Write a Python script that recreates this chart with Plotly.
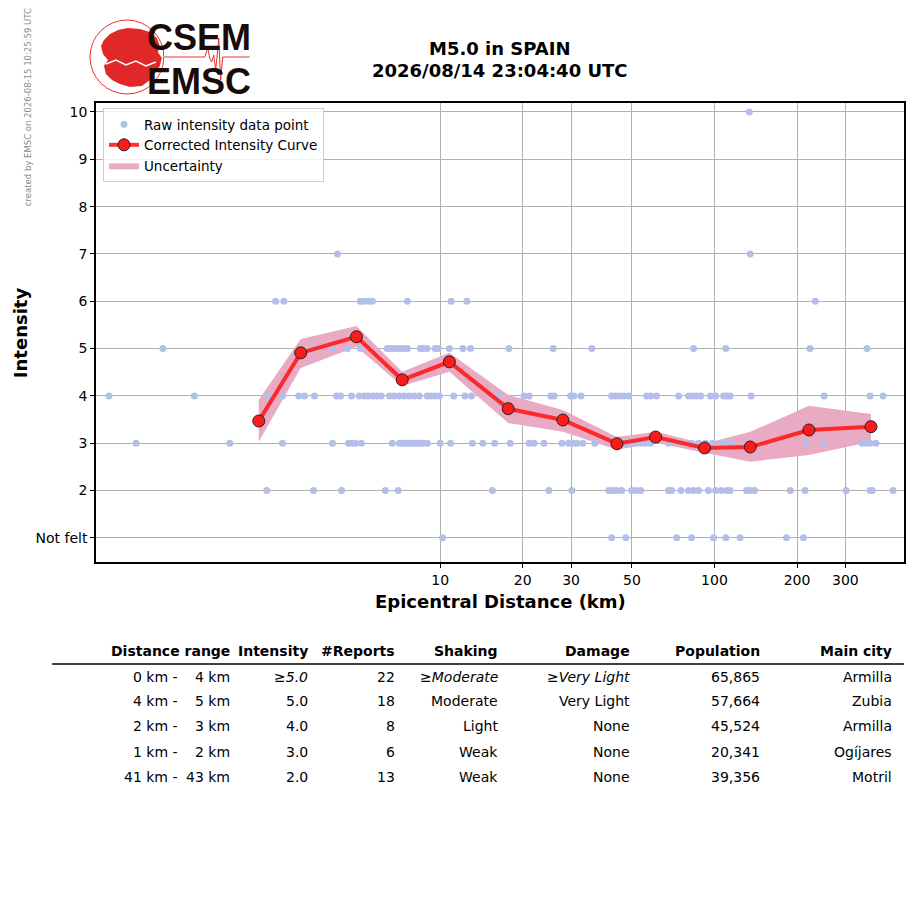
import plotly.graph_objects as go

# ---- data ----
raw_i10 = [134]
raw_i7 = [4.22, 135]
raw_i6 = [2.51, 2.69, 5.12, 5.25, 5.47, 5.66, 7.59, 10.96, 12.5, 233]
raw_i5 = [0.975, 3.48, 4.05, 4.59, 5.12, 6.41, 6.58, 6.75, 6.98, 7.16, 7.33, 7.59,
          8.46, 8.67, 8.97, 9.59, 9.84, 10.8, 12.1, 12.9, 17.8, 25.8, 35.7, 83.9,
          110, 223, 360]
raw_i4 = [0.62, 1.27, 2.35, 2.66, 3.05, 3.2, 3.48, 4.19, 4.33, 4.75, 5.07, 5.29,
          5.47, 5.7, 5.9, 6.1, 6.53, 6.8, 7.1, 7.4, 7.7, 8.04, 8.39, 8.97, 9.27,
          9.59, 9.92, 11.2, 12.3, 13.0, 16.3, 20.2, 21.1, 25.3, 26.0, 29.9, 30.7,
          32.6, 42.2, 43.6, 45.2, 46.7, 48.7, 56.6, 58.5, 61.5, 74.0, 80.4, 83.2,
          86.0, 89.0, 96.7, 101, 108, 111, 114, 136, 251, 369, 412]
raw_i3 = [0.778, 1.71, 2.66, 4.05, 4.63, 4.79, 4.91, 5.16, 6.69, 7.1, 7.28, 7.46,
          7.65, 7.85, 8.04, 8.25, 8.46, 8.67, 8.97, 10.0, 10.9, 13.1, 14.3, 15.8,
          18.0, 21.1, 22.0, 23.9, 27.8, 29.4, 30.7, 31.5, 33.1, 36.6, 44.0, 47.5,
          49.5, 51.6, 53.8, 56.1, 58.5, 68.0, 74.0, 82.5, 87.5, 92.7, 98.3, 105,
          111, 115, 216, 251, 345, 357, 369, 388]
raw_i2 = [2.33, 3.45, 4.37, 6.31, 7.03, 15.5, 24.9, 30.2, 41.2, 42.6, 44.0, 45.9,
          49.9, 51.6, 53.8, 68.0, 69.8, 75.5, 80.4, 83.9, 87.5, 95.1, 101, 106,
          111, 114, 131, 135, 140, 189, 214, 302, 369, 376, 448]
raw_i1 = [10.2, 42.2, 47.5, 72.8, 82.5, 99.2, 110, 124, 183, 211]

curve_dist = [2.18, 3.10, 4.95, 7.27, 10.8, 17.7, 28.0, 44.1, 61.0, 92.0, 135, 221, 372]
curve_int = [3.47, 4.91, 5.25, 4.34, 4.72, 3.73, 3.49, 2.99, 3.13, 2.90, 2.92, 3.28, 3.35]
curve_hi = [3.92, 5.20, 5.48, 4.51, 4.91, 4.02, 3.70, 3.13, 3.24, 2.99, 3.24, 3.79, 3.62]
curve_lo = [3.03, 4.59, 5.04, 4.21, 4.51, 3.43, 3.24, 2.86, 3.01, 2.80, 2.61, 2.75, 3.03]

x_ticks = [10, 20, 30, 50, 100, 200, 300]
y_ticks = [1, 2, 3, 4, 5, 6, 7, 8, 9, 10]
y_ticktext = ["Not felt", "2", "3", "4", "5", "6", "7", "8", "9", "10"]

tbl_header = ["Distance range", "Intensity", "#Reports", "Shaking", "Damage",
              "Population", "Main city"]
tbl_from = ["0 km -", "4 km -", "2 km -", "1 km -", "41 km -"]
tbl_to = ["4 km", "5 km", "3 km", "2 km", "43 km"]
tbl_intensity = ["<i>≥5.0</i>", "5.0", "4.0", "3.0", "2.0"]
tbl_reports = ["22", "18", "8", "6", "13"]
tbl_shaking = ["<i>≥Moderate</i>", "Moderate", "Light", "Weak", "Weak"]
tbl_damage = ["<i>≥Very Light</i>", "Very Light", "None", "None", "None"]
tbl_population = ["65,865", "57,664", "45,524", "20,341", "39,356"]
tbl_city = ["Armilla", "Zubia", "Armilla", "Ogíjares", "Motril"]

title_lines = ["M5.0 in SPAIN", "2026/08/14 23:04:40 UTC"]
stamp = "created by EMSC on 2026-08-15 10:25:59 UTC"

# ---- layout helpers (screen pixel -> paper) ----
W, H = 915, 905
OFF = 8  # page body margin
L, R, T, B = 96, 906, 103, 562
FONT = "DejaVu Sans"
FW, FH = W - 2 * OFF, H - 2 * OFF


def px(x):
    return (x - L) / (R - L)


def py(y):
    return (B - y) / (B - T)


raw_x, raw_y = [], []
for lvl, vals in [(10, raw_i10), (7, raw_i7), (6, raw_i6), (5, raw_i5),
                  (4, raw_i4), (3, raw_i3), (2, raw_i2), (1, raw_i1)]:
    raw_x += vals
    raw_y += [lvl] * len(vals)

fig = go.Figure()

fig.add_trace(go.Scatter(
    x=curve_dist + curve_dist[::-1],
    y=curve_hi + curve_lo[::-1],
    fill="toself", fillcolor="#e9abc4", line=dict(width=0),
    mode="lines", name="Uncertainty", legendrank=3, hoverinfo="skip",
))
fig.add_trace(go.Scatter(
    x=raw_x, y=raw_y, mode="markers", name="Raw intensity data point",
    marker=dict(color="#b3bfea", size=7), legendrank=1,
))
fig.add_trace(go.Scatter(
    x=curve_dist, y=curve_int, mode="lines+markers",
    name="Corrected Intensity Curve", legendrank=2,
    line=dict(color="rgba(255,25,25,0.9)", width=4),
    marker=dict(color="#ff1a1a", size=12, line=dict(color="#222222", width=1)),
))

ann = []
# title
ann.append(dict(text="<b>%s</b>" % title_lines[0], x=px(501), y=py(49),
                font=dict(size=18)))
ann.append(dict(text="<b>%s</b>" % title_lines[1], x=px(501), y=py(71),
                font=dict(size=18)))
# axis titles
ann.append(dict(text="<b>Epicentral Distance (km)</b>", x=px(501), y=py(601),
                font=dict(size=18)))
ann.append(dict(text="<b>Intensity</b>", x=px(20), y=py(333), textangle=-90,
                font=dict(size=18)))
# stamp
ann.append(dict(text=stamp, x=px(28), y=py(107), textangle=-90,
                font=dict(size=8.5, color="#8a8a8a")))
# logo text
ann.append(dict(text="<b>CSEM</b>", x=px(199), y=py(37),
                font=dict(size=36, family="Liberation Sans", color="#1a0a0a")))
ann.append(dict(text="<b>EMSC</b>", x=px(199), y=py(81),
                font=dict(size=36, family="Liberation Sans", color="#1a0a0a")))

# table (right aligned columns; xshift compensates annotation padding)
col_right = [228, 307, 394, 497, 629, 760, 892]
row_y = [677, 701, 726, 752, 777]
for xr, h in zip(col_right, tbl_header):
    ann.append(dict(text="<b>%s</b>" % h, x=px(xr), y=py(651),
                    xanchor="right", xshift=4))
cols = [tbl_intensity, tbl_reports, tbl_shaking, tbl_damage, tbl_population, tbl_city]
for i, yy in enumerate(row_y):
    ann.append(dict(text=tbl_from[i], x=px(176), y=py(yy), xanchor="right", xshift=4))
    ann.append(dict(text=tbl_to[i], x=px(228), y=py(yy), xanchor="right", xshift=4))
    for xr, col in zip(col_right[1:], cols):
        ann.append(dict(text=col[i], x=px(xr), y=py(yy), xanchor="right", xshift=4))

for a in ann:
    a.setdefault("xref", "paper")
    a.setdefault("yref", "paper")
    a.setdefault("showarrow", False)
    a.setdefault("xanchor", "center")
    a.setdefault("yanchor", "middle")
    a.setdefault("font", {})
    a["font"].setdefault("size", 14)
    a["font"].setdefault("color", "black")
    a["font"].setdefault("family", FONT)


def path(points, close=True):
    s = "M " + " L ".join("%.4f,%.4f" % (px(x), py(y)) for x, y in points)
    return s + (" Z" if close else "")


# rough logo: globe with continents + seismogram trace
globe = [(104, 40), (110, 34), (118, 30), (128, 28), (140, 29), (150, 32),
         (157, 38), (160, 46), (158, 52), (162, 58), (160, 66), (156, 72),
         (150, 80), (142, 86), (130, 87), (120, 84), (112, 80), (106, 74),
         (104, 66), (108, 60), (103, 54), (101, 46)]
sea = [(106, 64), (116, 60), (126, 65), (136, 61), (146, 66), (156, 62)]
seismo = [(165, 57), (205, 57), (208, 48), (210, 58), (212, 62), (214, 55),
          (216, 70), (218, 50), (219, 38), (221, 80), (223, 57), (250, 57)]

shapes = [
    dict(type="circle", xref="paper", yref="paper", x0=px(90), x1=px(164),
         y0=py(94), y1=py(20), line=dict(color="#e53030", width=1)),
    dict(type="path", xref="paper", yref="paper", path=path(globe),
         fillcolor="#e02828", line=dict(width=0)),
    dict(type="path", xref="paper", yref="paper", path=path(sea, False),
         line=dict(color="white", width=1.5)),
    dict(type="path", xref="paper", yref="paper", path=path(seismo, False),
         line=dict(color="#e53030", width=1)),
    dict(type="line", xref="paper", yref="paper", x0=px(52), x1=px(906),
         y0=py(664), y1=py(664), line=dict(color="black", width=1.5)),
]

fig.update_layout(
    width=FW, height=FH,
    margin=dict(l=L - OFF, r=FW - (R - OFF), t=T - OFF, b=FH - (B - OFF), pad=0),
    paper_bgcolor="white", plot_bgcolor="white",
    font=dict(family=FONT, size=14, color="black"),
    showlegend=True,
    legend=dict(x=px(103), y=py(108), xanchor="left", yanchor="top",
                bgcolor="rgba(255,255,255,0.8)", bordercolor="#cccccc",
                borderwidth=1, font=dict(size=13.5), tracegroupgap=0),
    annotations=ann,
    shapes=shapes,
)
fig.update_xaxes(
    type="log", range=[-0.255, 2.691], tickvals=x_ticks,
    ticktext=[str(v) for v in x_ticks],
    showgrid=True, gridcolor="#b0b0b0", gridwidth=1,
    ticks="outside", ticklen=4, tickcolor="black",
    showline=True, linecolor="black", linewidth=1.5, mirror=True,
    zeroline=False,
)
fig.update_yaxes(
    range=[0.49, 10.19], tickvals=y_ticks, ticktext=y_ticktext,
    showgrid=True, gridcolor="#b0b0b0", gridwidth=1,
    ticks="outside", ticklen=4, tickcolor="black",
    showline=True, linecolor="black", linewidth=1.5, mirror=True,
    zeroline=False,
)

fig.write_html("out.html")
